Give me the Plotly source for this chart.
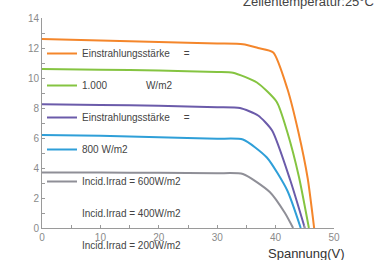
import plotly.graph_objects as go

names = ["Einstrahlungsstärke     =", "1.000              W/m2", "Einstrahlungsstärke     =",
         "800 W/m2", "Incid.Irrad = 600W/m2"]
extra_names = ["Incid.Irrad = 400W/m2", "Incid.Irrad = 200W/m2"]
colors = ["#F4862B", "#85C441", "#6B5BAA", "#2F9FD8", "#8F8F97"]

v_orange = [0, 10, 20, 30, 34.4, 37, 39.6, 42, 43.9, 45.5, 46.6]
i_orange = [12.6, 12.5, 12.4, 12.3, 12.25, 12.0, 11.7, 9.3, 6.4, 3.3, 0]
v_green = [0, 10, 20, 30, 32.7, 36.8, 40.2, 42, 44, 45.7]
i_green = [10.6, 10.55, 10.5, 10.4, 10.35, 9.7, 8.4, 6.4, 3.4, 0]
v_purple = [0, 10, 20, 30, 33.9, 37, 39.4, 42.5, 45]
i_purple = [8.25, 8.2, 8.15, 8.05, 8.0, 7.5, 6.5, 3.2, 0]
v_blue = [0, 10, 20, 30, 34.4, 38.5, 42, 44.3]
i_blue = [6.2, 6.15, 6.05, 5.95, 5.9, 4.7, 2.5, 0]
v_gray = [0, 10, 20, 30, 34.4, 39, 41.6, 43]
i_gray = [3.7, 3.7, 3.68, 3.65, 3.6, 2.4, 1.0, 0]

series = [(v_orange, i_orange), (v_green, i_green), (v_purple, i_purple),
          (v_blue, i_blue), (v_gray, i_gray)]

fig = go.Figure()
for k, ((vx, iy), nm, c) in enumerate(zip(series, names, colors)):
    fig.add_trace(go.Scatter(x=vx, y=iy, mode="lines", name=nm, legendgroup=f"g{k}",
                             line=dict(color=c, width=2, shape="spline", smoothing=0.6)))
for k, nm in enumerate(extra_names):
    fig.add_trace(go.Scatter(x=[None], y=[None], mode="lines", name=nm, legendgroup=f"e{k}",
                             line=dict(color="rgba(0,0,0,0)", width=2)))

axis_common = dict(showgrid=False, zeroline=False, showline=True, linecolor="#9a9a9a", linewidth=1,
                   ticks="inside", ticklen=3, tickcolor="#9a9a9a",
                   tickfont=dict(family="Liberation Sans Narrow, Liberation Sans, Arial", size=10, color="#8a8a8a"))
fig.update_xaxes(range=[0, 50], dtick=10, minor=dict(dtick=5, ticks="inside", ticklen=3, tickcolor="#9a9a9a"),
                 **axis_common)
fig.update_yaxes(range=[0, 14], dtick=2, minor=dict(dtick=1, ticks="inside", ticklen=3, tickcolor="#9a9a9a"),
                 **axis_common)

fig.update_layout(
    width=380, height=260, margin=dict(l=42, r=46, t=16, b=32),
    paper_bgcolor="white", plot_bgcolor="white",
    legend=dict(x=0.0, y=0.89, xanchor="left", yanchor="top", bgcolor="rgba(0,0,0,0)",
                font=dict(family="Liberation Sans, Arial", size=10, color="#444444"),
                tracegroupgap=13, traceorder="grouped", maxheight=300),
    annotations=[
        dict(text="Zellentemperatur:25°C", xref="paper", yref="paper", x=1.145, y=1.08,
             xanchor="right", yanchor="middle", showarrow=False,
             font=dict(family="Liberation Sans, Arial", size=13, color="#444444")),
        dict(text="Spannung(V)", xref="paper", yref="paper", x=0.907, y=-0.123,
             xanchor="center", yanchor="middle", showarrow=False,
             font=dict(family="Liberation Sans, Arial", size=13, color="#333333")),
    ],
)
fig.write_html("out.html", config={"displayModeBar": False},
               post_script="document.body.style.margin='0';")
